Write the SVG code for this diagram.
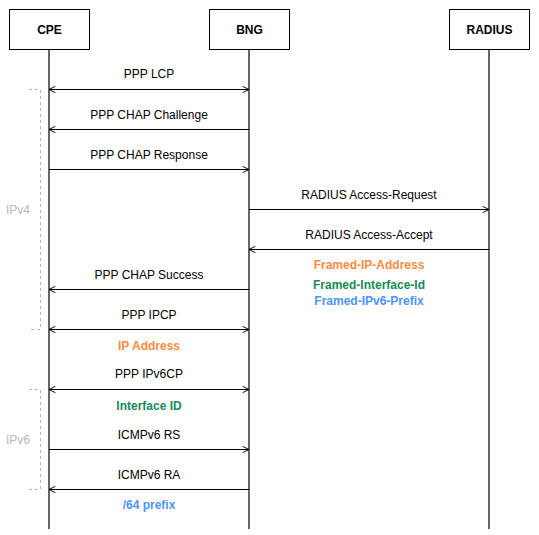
<svg xmlns="http://www.w3.org/2000/svg" width="539" height="535" viewBox="0 0 539 535">
<defs>
<marker id="ah" viewBox="0 0 10 10" refX="9" refY="5" markerWidth="8" markerHeight="8" markerUnits="userSpaceOnUse" orient="auto-start-reverse">
<path d="M1,1 L9,5 L1,9" fill="none" stroke="#000" stroke-width="1.2"/>
</marker>
</defs>
<style>
text{font-family:"Liberation Sans",Arial,sans-serif;font-size:12px;text-anchor:middle}
.box{fill:#fff;stroke:#000;stroke-width:1}
.b{font-weight:bold}
.life{stroke:#000;stroke-width:1.2}
.msg{stroke:#000;stroke-width:1;fill:none}
.dash{stroke:#b3b3b3;stroke-width:1;stroke-dasharray:3,3;fill:none}
.grp{fill:#b8b8b8}
.or{fill:#ff8a3d;font-weight:bold}
.gr{fill:#1a8a55;font-weight:bold}
.bl{fill:#4d94ff;font-weight:bold}
</style>
<rect width="539" height="535" fill="#fff"/>
<g id="lifelines">
<line class="life" x1="49" y1="49" x2="49" y2="529"/>
<line class="life" x1="249" y1="49" x2="249" y2="529"/>
<line class="life" x1="489" y1="49" x2="489" y2="529"/>
</g>
<g id="cpe"><rect class="box" x="9.5" y="9.5" width="80" height="40"/><text class="b" x="49.5" y="33.5">CPE</text></g>
<g id="bng"><rect class="box" x="209.5" y="9.5" width="80" height="40"/><text class="b" x="249.5" y="33.5">BNG</text></g>
<g id="radius"><rect class="box" x="449.5" y="9.5" width="80" height="40"/><text class="b" x="489.5" y="33.5">RADIUS</text></g>
<g id="groups">
<path class="dash" d="M29,89.5 H40.5 V329.5 H29"/>
<text class="grp" x="18" y="214">IPv4</text>
<path class="dash" d="M29,389.5 H40.5 V489.5 H29"/>
<text class="grp" x="18" y="444">IPv6</text>
</g>
<g id="connectors">
<line class="msg" x1="49" y1="89.5" x2="249" y2="89.5" marker-start="url(#ah)" marker-end="url(#ah)"/>
<line class="msg" x1="249" y1="129.5" x2="49" y2="129.5" marker-end="url(#ah)"/>
<line class="msg" x1="49" y1="169.5" x2="249" y2="169.5" marker-end="url(#ah)"/>
<line class="msg" x1="249" y1="209.5" x2="489" y2="209.5" marker-end="url(#ah)"/>
<line class="msg" x1="489" y1="249.5" x2="249" y2="249.5" marker-end="url(#ah)"/>
<line class="msg" x1="249" y1="289.5" x2="49" y2="289.5" marker-end="url(#ah)"/>
<line class="msg" x1="49" y1="329.5" x2="249" y2="329.5" marker-start="url(#ah)" marker-end="url(#ah)"/>
<line class="msg" x1="49" y1="389.5" x2="249" y2="389.5" marker-start="url(#ah)" marker-end="url(#ah)"/>
<line class="msg" x1="49" y1="449.5" x2="249" y2="449.5" marker-end="url(#ah)"/>
<line class="msg" x1="249" y1="489.5" x2="49" y2="489.5" marker-end="url(#ah)"/>
</g>
<g id="labels">
<text x="149" y="78">PPP LCP</text>
<text x="149" y="119">PPP CHAP Challenge</text>
<text x="149" y="159">PPP CHAP Response</text>
<text x="369" y="199">RADIUS Access-Request</text>
<text x="369" y="239">RADIUS Access-Accept</text>
<text class="or" x="369" y="269">Framed-IP-Address</text>
<text class="gr" x="369" y="289">Framed-Interface-Id</text>
<text class="bl" x="369" y="305">Framed-IPv6-Prefix</text>
<text x="149" y="279">PPP CHAP Success</text>
<text x="149" y="319">PPP IPCP</text>
<text class="or" x="149" y="350">IP Address</text>
<text x="149" y="378">PPP IPv6CP</text>
<text class="gr" x="149" y="410">Interface ID</text>
<text x="149" y="439">ICMPv6 RS</text>
<text x="149" y="479">ICMPv6 RA</text>
<text class="bl" x="149" y="509">/64 prefix</text>
</g>
</svg>
